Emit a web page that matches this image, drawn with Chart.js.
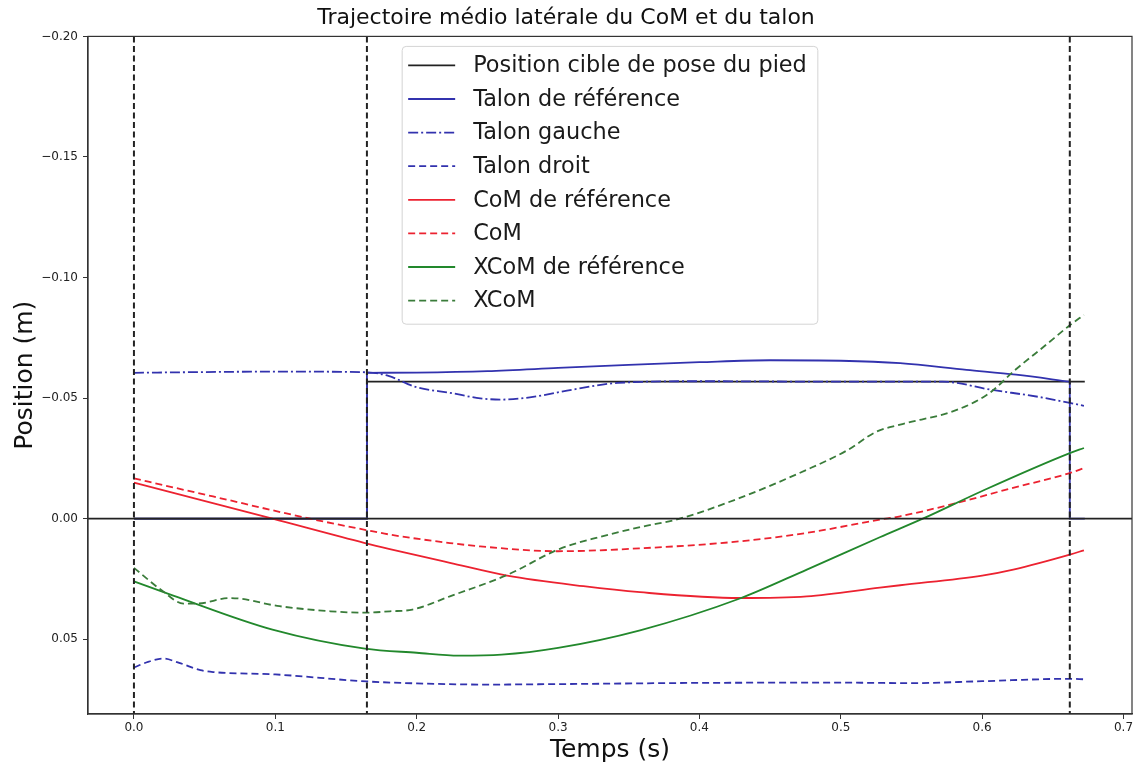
<!DOCTYPE html>
<html>
<head>
<meta charset="utf-8">
<script src="https://cdn.jsdelivr.net/npm/chart.js@4.4.1/dist/chart.umd.min.js"></script>
<style>
  html, body { margin: 0; padding: 0; background: #fff; }
  canvas { display: block; }
</style>
</head>
<body>
<canvas id="traj" width="1141" height="769"></canvas>
<script>
// axes
const xRange = [-0.0325, 0.706];
const yRange = [-0.20, 0.081];
const xTicks = [0.0, 0.1, 0.2, 0.3, 0.4, 0.5, 0.6, 0.7];
const yTicks = [-0.20, -0.15, -0.10, -0.05, 0.00, 0.05];

// instants d'appui (lignes verticales pointillees)
const appuis = [0, 0.1648, 0.662];

// [temps, position]
const cible = [[0, 0], [0.1648, 0], [0.1648, -0.0568], [0.6726, -0.0568]];

const talonRefDebut = [[0, 0], [0.1648, 0], [0.1648, -0.0605]];
const talonRef = [
  [0.1648, -0.0605], [0.2, -0.0606], [0.25, -0.0612], [0.3, -0.0625], [0.35, -0.0638],
  [0.4, -0.0649], [0.45, -0.0657], [0.5, -0.0655], [0.542, -0.0645], [0.589, -0.0617],
  [0.624, -0.0597], [0.662, -0.0568]
];
const talonRefFin = [[0.662, -0.0568], [0.662, 0], [0.6726, 0]];

const talonGauche = [
  [0, -0.0605], [0.05, -0.0608], [0.1, -0.061], [0.1648, -0.0607], [0.18, -0.0592],
  [0.2, -0.0545], [0.2235, -0.0522], [0.245, -0.0499], [0.26, -0.0494], [0.28, -0.0503],
  [0.31, -0.0535], [0.342, -0.0563], [0.4, -0.057], [0.5, -0.0568], [0.572, -0.0568],
  [0.607, -0.0534], [0.64, -0.0505], [0.662, -0.048], [0.672, -0.0468]
];

const talonDroit = [
  [0, 0.0617], [0.01, 0.0594], [0.0205, 0.058], [0.032, 0.0598], [0.047, 0.0628],
  [0.056, 0.0636], [0.1, 0.0646], [0.1648, 0.0675], [0.2, 0.0683], [0.25, 0.0688],
  [0.3, 0.0686], [0.4, 0.0681], [0.5, 0.068], [0.55, 0.0682], [0.6, 0.0674],
  [0.662, 0.0664], [0.672, 0.0666]
];

const comRef = [
  [0, -0.015], [0.098, 0], [0.1634, 0.0101], [0.181, 0.0126], [0.2235, 0.0183],
  [0.264, 0.0236], [0.318, 0.028], [0.358, 0.0305], [0.4286, 0.0329], [0.476, 0.0322],
  [0.5276, 0.0286], [0.542, 0.0276], [0.6, 0.0236], [0.622, 0.0211], [0.662, 0.0149],
  [0.672, 0.0131]
];

const com = [
  [0, -0.0167], [0.056, -0.0092], [0.1245, 0], [0.1634, 0.0046], [0.181, 0.0066],
  [0.2235, 0.0101], [0.245, 0.0115], [0.3, 0.0135], [0.358, 0.0123], [0.4286, 0.0094],
  [0.476, 0.0059], [0.5276, 0.0004], [0.542, -0.001], [0.582, -0.0065], [0.62, -0.0125],
  [0.662, -0.0189], [0.672, -0.021]
];

const xcomRef = [
  [0, 0.026], [0.0278, 0.0319], [0.098, 0.046], [0.1634, 0.0539], [0.2, 0.0556],
  [0.23, 0.0568], [0.26, 0.0564], [0.3, 0.0536], [0.358, 0.0463], [0.4286, 0.0331],
  [0.476, 0.0211], [0.5276, 0.0077], [0.558, 0], [0.6, -0.0115], [0.662, -0.0272],
  [0.672, -0.0293]
];

const xcom = [
  [0, 0.0204], [0.0205, 0.0301], [0.035, 0.0352], [0.0443, 0.0352], [0.068, 0.0329],
  [0.103, 0.0363], [0.139, 0.0384], [0.1634, 0.039], [0.181, 0.0384], [0.197, 0.0377],
  [0.2235, 0.0322], [0.2645, 0.0232], [0.3013, 0.0125], [0.33, 0.0075], [0.358, 0.0035],
  [0.386, 0], [0.4286, -0.0086], [0.476, -0.0203], [0.505, -0.0285], [0.525, -0.036],
  [0.542, -0.039], [0.582, -0.0451], [0.605, -0.052], [0.623, -0.0615], [0.645, -0.072],
  [0.662, -0.0802], [0.672, -0.0845]
];

const FONT = '"DejaVu Sans", "Liberation Sans", sans-serif';
const BLUE = '#3232ae';
const RED = '#ec2230';
const GREEN = '#22882c';
const DGREEN = '#3a7c3a';
const BLACK = '#222';

const pts = arr => arr.map(p => ({ x: p[0], y: p[1] }));
const minus = s => s.replace('-', '\u2212');

function serie(label, data, color, dash, order, smooth) {
  return {
    label: label,
    data: pts(data),
    borderColor: color,
    backgroundColor: color,
    borderWidth: 1.8,
    borderDash: dash,
    pointRadius: 0,
    fill: false,
    tension: smooth ? 0.4 : 0,
    cubicInterpolationMode: smooth ? 'monotone' : 'default',
    order: order
  };
}

const datasets = [
  serie('Position cible de pose du pied', cible, BLACK, [], 9, false),
  serie('Talon de référence', talonRef, BLUE, [], 8, true),
  serie('Talon gauche', talonGauche, BLUE, [10, 3, 2, 3], 7, true),
  serie('Talon droit', talonDroit, BLUE, [7, 4], 6, true),
  serie('CoM de référence', comRef, RED, [], 5, true),
  serie('CoM', com, RED, [7, 4], 4, true),
  serie('XCoM de référence', xcomRef, GREEN, [], 3, true),
  serie('XCoM', xcom, DGREEN, [7, 4], 2, true),
  serie('', talonRefDebut, BLUE, [], 8, false),
  serie('', talonRefFin, BLUE, [], 8, false),
  serie('', [[xRange[0], 0], [xRange[1], 0]], BLACK, [], 1, false)
];
appuis.forEach(t => {
  const d = serie('', [[t, yRange[0]], [t, yRange[1]]], BLACK, [6, 3.5], 0, false);
  d.borderWidth = 2;
  datasets.push(d);
});

const frame = {
  id: 'frame',
  afterDatasetsDraw(chart) {
    const { ctx, chartArea: a } = chart;
    ctx.save();
    ctx.strokeStyle = '#333';
    ctx.lineWidth = 1.2;
    ctx.strokeRect(a.left, a.top, a.right - a.left, a.bottom - a.top);
    ctx.restore();
  }
};

const legendBox = {
  id: 'legendBox',
  afterDraw(chart) {
    const { ctx, chartArea: a } = chart;
    const items = chart.data.datasets.filter(d => d.label);
    ctx.save();
    ctx.font = '22.4px ' + FONT;
    const textW = Math.max(...items.map(d => ctx.measureText(d.label).width));
    const rowH = 33.6, sample = 47, gap = 18, pad = 6;
    const w = pad + sample + gap + textW + 11;
    const h = items.length * rowH + 9;
    const x0 = (a.left + a.right) / 2 - w / 2;
    const y0 = a.top + 10;
    ctx.beginPath();
    ctx.roundRect(x0, y0, w, h, 4);
    ctx.fillStyle = 'rgba(255,255,255,0.85)';
    ctx.fill();
    ctx.strokeStyle = '#d4d4d4';
    ctx.lineWidth = 1;
    ctx.stroke();
    items.forEach((d, i) => {
      const cy = y0 + 19 + i * rowH;
      ctx.beginPath();
      ctx.setLineDash(d.borderDash || []);
      ctx.strokeStyle = d.borderColor;
      ctx.lineWidth = d.borderWidth;
      ctx.moveTo(x0 + pad, cy);
      ctx.lineTo(x0 + pad + sample, cy);
      ctx.stroke();
      ctx.setLineDash([]);
      ctx.fillStyle = '#1a1a1a';
      ctx.textBaseline = 'middle';
      ctx.textAlign = 'left';
      ctx.fillText(d.label, x0 + pad + sample + gap, cy + 1);
    });
    ctx.restore();
  }
};

new Chart(document.getElementById('traj'), {
  type: 'line',
  data: { datasets: datasets },
  options: {
    responsive: false,
    animation: false,
    layout: { padding: { top: 0, right: 9, bottom: 0, left: 0 } },
    plugins: {
      legend: { display: false },
      tooltip: { enabled: false },
      title: {
        display: true,
        text: 'Trajectoire médio latérale du CoM et du talon',
        color: '#111',
        font: { family: FONT, size: 22, weight: 'normal' },
        padding: { top: 5, bottom: 5 }
      }
    },
    scales: {
      x: {
        type: 'linear',
        min: xRange[0],
        max: xRange[1],
        afterBuildTicks: s => { s.ticks = xTicks.map(v => ({ value: v })); },
        afterFit: s => { s.height = 55; },
        grid: { drawOnChartArea: false, drawTicks: true, tickLength: 5, color: '#333' },
        border: { color: '#333', width: 1.2 },
        ticks: {
          color: '#222', padding: 2, maxRotation: 0, autoSkip: false,
          font: { family: FONT, size: 12 },
          callback: v => v.toFixed(1)
        },
        title: {
          display: true, text: 'Temps (s)', color: '#111',
          font: { family: FONT, size: 25 },
          padding: { top: 0, bottom: 4 }
        }
      },
      y: {
        type: 'linear',
        reverse: true,
        min: yRange[0],
        max: yRange[1],
        afterBuildTicks: s => { s.ticks = yTicks.map(v => ({ value: v })); },
        afterFit: s => { s.width = 88; },
        grid: { drawOnChartArea: false, drawTicks: true, tickLength: 5, color: '#333' },
        border: { color: '#333', width: 1.2 },
        ticks: {
          color: '#222', padding: 5, autoSkip: false,
          font: { family: FONT, size: 12 },
          callback: v => minus(v.toFixed(2))
        },
        title: {
          display: true, text: 'Position (m)', color: '#111',
          font: { family: FONT, size: 25 },
          padding: { top: 10, bottom: 0 }
        }
      }
    }
  },
  plugins: [frame, legendBox]
});
</script>
</body>
</html>
